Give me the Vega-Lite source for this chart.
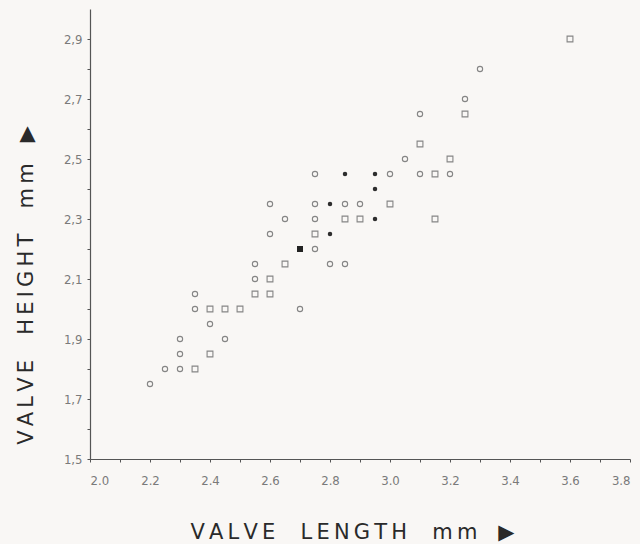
{
  "$schema": "https://vega.github.io/schema/vega-lite/v6.json",
  "width": 540,
  "height": 450,
  "autosize": "none",
  "padding": {"left": 90, "top": 9, "right": 10, "bottom": 85},
  "background": "#f9f7f5",
  "config": {
    "view": {"stroke": null},
    "axis": {
      "grid": false,
      "domainColor": "#555555",
      "domainWidth": 1.2,
      "tickColor": "#555555",
      "tickSize": 3,
      "labelFont": "Liberation Sans Narrow, DejaVu Sans Condensed, sans-serif",
      "labelFontSize": 13,
      "labelColor": "#7a7a7a",
      "titleFont": "DejaVu Sans",
      "titleFontSize": 21,
      "titleFontWeight": "normal",
      "titleColor": "#2a2a2a"
    }
  },
  "data": {
    "values": [
      {"length": 2.2, "height": 1.75, "type": "open circle"},
      {"length": 2.3, "height": 1.8, "type": "open circle"},
      {"length": 2.25, "height": 1.8, "type": "open circle"},
      {"length": 2.35, "height": 2.05, "type": "open circle"},
      {"length": 2.35, "height": 2.0, "type": "open circle"},
      {"length": 2.4, "height": 1.95, "type": "open circle"},
      {"length": 2.3, "height": 1.9, "type": "open circle"},
      {"length": 2.45, "height": 1.9, "type": "open circle"},
      {"length": 2.3, "height": 1.85, "type": "open circle"},
      {"length": 2.7, "height": 2.0, "type": "open circle"},
      {"length": 2.55, "height": 2.1, "type": "open circle"},
      {"length": 2.55, "height": 2.15, "type": "open circle"},
      {"length": 2.8, "height": 2.15, "type": "open circle"},
      {"length": 2.85, "height": 2.15, "type": "open circle"},
      {"length": 2.75, "height": 2.2, "type": "open circle"},
      {"length": 2.6, "height": 2.25, "type": "open circle"},
      {"length": 2.65, "height": 2.3, "type": "open circle"},
      {"length": 2.75, "height": 2.3, "type": "open circle"},
      {"length": 2.6, "height": 2.35, "type": "open circle"},
      {"length": 2.75, "height": 2.35, "type": "open circle"},
      {"length": 2.85, "height": 2.35, "type": "open circle"},
      {"length": 2.9, "height": 2.35, "type": "open circle"},
      {"length": 2.75, "height": 2.45, "type": "open circle"},
      {"length": 3.0, "height": 2.45, "type": "open circle"},
      {"length": 3.1, "height": 2.45, "type": "open circle"},
      {"length": 3.2, "height": 2.45, "type": "open circle"},
      {"length": 3.05, "height": 2.5, "type": "open circle"},
      {"length": 3.1, "height": 2.65, "type": "open circle"},
      {"length": 3.25, "height": 2.7, "type": "open circle"},
      {"length": 3.3, "height": 2.8, "type": "open circle"},
      {"length": 2.35, "height": 1.8, "type": "open square"},
      {"length": 2.4, "height": 1.85, "type": "open square"},
      {"length": 2.4, "height": 2.0, "type": "open square"},
      {"length": 2.45, "height": 2.0, "type": "open square"},
      {"length": 2.5, "height": 2.0, "type": "open square"},
      {"length": 2.55, "height": 2.05, "type": "open square"},
      {"length": 2.6, "height": 2.05, "type": "open square"},
      {"length": 2.6, "height": 2.1, "type": "open square"},
      {"length": 2.65, "height": 2.15, "type": "open square"},
      {"length": 2.75, "height": 2.25, "type": "open square"},
      {"length": 2.85, "height": 2.3, "type": "open square"},
      {"length": 2.9, "height": 2.3, "type": "open square"},
      {"length": 3.0, "height": 2.35, "type": "open square"},
      {"length": 3.15, "height": 2.3, "type": "open square"},
      {"length": 3.15, "height": 2.45, "type": "open square"},
      {"length": 3.2, "height": 2.5, "type": "open square"},
      {"length": 3.1, "height": 2.55, "type": "open square"},
      {"length": 3.25, "height": 2.65, "type": "open square"},
      {"length": 3.6, "height": 2.9, "type": "open square"},
      {"length": 2.8, "height": 2.25, "type": "filled circle"},
      {"length": 2.8, "height": 2.35, "type": "filled circle"},
      {"length": 2.85, "height": 2.45, "type": "filled circle"},
      {"length": 2.95, "height": 2.45, "type": "filled circle"},
      {"length": 2.95, "height": 2.4, "type": "filled circle"},
      {"length": 2.95, "height": 2.3, "type": "filled circle"},
      {"length": 2.7, "height": 2.2, "type": "filled square"}
    ]
  },
  "encoding": {
    "x": {
      "field": "length", "type": "quantitative",
      "scale": {"domain": [2.0, 3.8], "nice": false, "zero": false},
      "axis": {
        "title": "V\u2009A\u2009L\u2009V\u2009E\u2002\u2002\u2009L\u2009E\u2009N\u2009G\u2009T\u2009H\u2002\u2002\u2009m\u2009m\u2002\u2002\u25b6",
        "values": [2.0,2.1,2.2,2.3,2.4,2.5,2.6,2.7,2.8,2.9,3.0,3.1,3.2,3.3,3.4,3.5,3.6,3.7,3.8],
        "labelExpr": "round(datum.value*10)%2==0 ? format(datum.value,'.1f') : ''",
        "labelPadding": 12,
        "titleX": 262,
        "titleY": 79,
        "titleAlign": "center",
        "titleBaseline": "alphabetic"
      }
    },
    "y": {
      "field": "height", "type": "quantitative",
      "scale": {"domain": [1.5, 3.0], "nice": false, "zero": false},
      "axis": {
        "title": "V\u2009A\u2009L\u2009V\u2009E\u2002\u2002\u2009H\u2009E\u2009I\u2009G\u2009H\u2009T\u2002\u2002\u2009m\u2009m\u2002\u2002\u25b6",
        "values": [1.5,1.6,1.7,1.8,1.9,2.0,2.1,2.2,2.3,2.4,2.5,2.6,2.7,2.8,2.9],
        "labelExpr": "round(datum.value*10)%2==1 ? replace(format(datum.value,'.1f'),'.',',') : ''",
        "labelPadding": 5,
        "titleX": -58,
        "titleY": 276,
        "titleBaseline": "alphabetic"
      }
    }
  },
  "layer": [
    {
      "transform": [{"filter": "datum.type == 'open circle'"}],
      "mark": {"type": "point", "shape": "circle", "filled": false, "size": 28, "stroke": "#858585", "strokeWidth": 1.1, "opacity": 1}
    },
    {
      "transform": [{"filter": "datum.type == 'open square'"}],
      "mark": {"type": "point", "shape": "square", "filled": false, "size": 34, "stroke": "#858585", "strokeWidth": 1.1, "opacity": 1}
    },
    {
      "transform": [{"filter": "datum.type == 'filled circle'"}],
      "mark": {"type": "point", "shape": "circle", "filled": true, "size": 20, "fill": "#2e2e2e", "opacity": 1}
    },
    {
      "transform": [{"filter": "datum.type == 'filled square'"}],
      "mark": {"type": "point", "shape": "square", "filled": true, "size": 36, "fill": "#222222", "opacity": 1}
    }
  ]
}
